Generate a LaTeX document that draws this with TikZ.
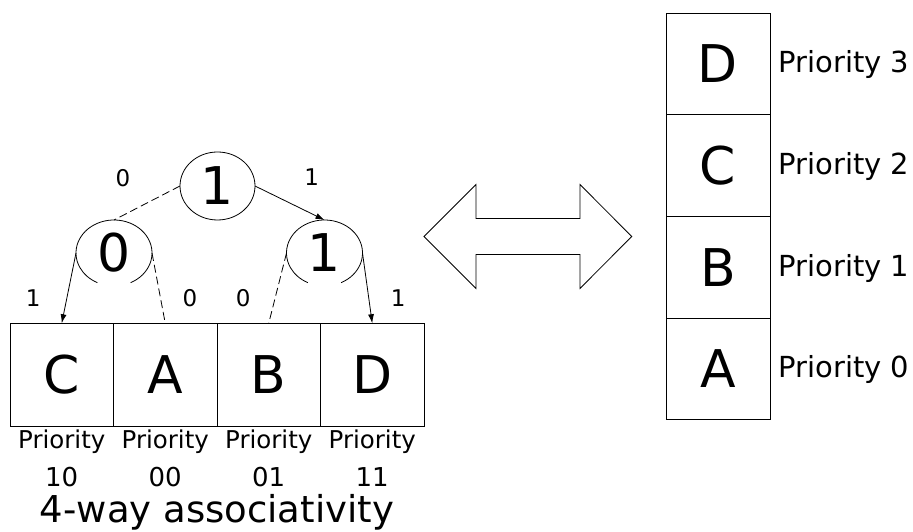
\documentclass[tikz,border=0pt]{standalone}
\usepackage{fontspec}
\setmainfont{DejaVu Sans}
\usetikzlibrary{arrows.meta,shapes.geometric}
\begin{document}
\begin{tikzpicture}[x=1pt,y=1pt,line width=0.8pt,
  cell/.style={draw, minimum width=103.5pt, minimum height=103.5pt, inner sep=0pt, outer sep=0pt, font=\fontsize{52}{60}\selectfont},
  slot/.style={draw, minimum width=104pt, minimum height=101.7pt, inner sep=0pt, outer sep=0pt, font=\fontsize{52}{60}\selectfont},
  bitnode/.style={ellipse, minimum width=76pt, minimum height=66pt, inner sep=0pt, outer sep=0pt, font=\fontsize{52}{60}\selectfont},
  bitlabel/.style={inner sep=0pt, font=\fontsize{23}{26}\selectfont},
  prio/.style={inner sep=0pt, anchor=base, font=\fontsize{24.5}{28}\selectfont},
  prionum/.style={inner sep=0pt, anchor=base, font=\fontsize{26}{30}\selectfont},
  rank/.style={inner sep=0pt, anchor=base west, font=\fontsize{29}{33}\selectfont},
  dashline/.style={dash pattern=on 8pt off 4pt},
  tip/.style={-{Latex[length=9pt,width=6pt]}}
]
\useasboundingbox (0,0) rectangle (913,532);

% set of four ways
\node[cell] (C) at (61.75,157) {C};
\node[cell] (A) at (165.25,157) {A};
\node[cell] (B) at (268.75,157) {B};
\node[cell] (D) at (372.25,157) {D};

\node[prio] (pc) at (61.75,83) {Priority};
\node[prio] (pa) at (165.25,83) {Priority};
\node[prio] (pb) at (268.75,83) {Priority};
\node[prio] (pd) at (372.25,83) {Priority};
\node[prionum] (nc) at (61.75,45.3) {10};
\node[prionum] (na) at (165.25,45.3) {00};
\node[prionum] (nb) at (268.75,45.3) {01};
\node[prionum] (nd) at (372.25,45.3) {11};
\node[inner sep=0pt, anchor=base, font=\fontsize{37}{42}\selectfont] (title) at (217,9) {4-way associativity};

% pseudo-LRU tree bits
\node[bitnode, draw, minimum width=75pt, minimum height=68pt] (root) at (217.5,346) {1};
\node[bitnode] (left) at (114,279) {0};
\node[bitnode] (right) at (324.5,279) {1};
\draw ([shift={(-64:38 and 33)}]left.center) arc[start angle=-64, end angle=244, x radius=38, y radius=33];
\draw ([shift={(-64:38 and 33)}]right.center) arc[start angle=-64, end angle=244, x radius=38, y radius=33];

\draw[dashline] (root.west) -- (left.north);
\draw[tip] (root.east) -- (right.north);
\draw[tip] (left.west) -- (C.north);
\draw[dashline] (left.east) -- (A.north);
\draw[dashline] (right.west) -- (B.north);
\draw[tip] (right.east) -- (D.north);

\node[bitlabel] (l0) at (123,354) {0};
\node[bitlabel] (l1) at (311.7,355.3) {1};
\node[bitlabel] (lc) at (33.3,233.7) {1};
\node[bitlabel] (la) at (190,233.7) {0};
\node[bitlabel] (lb) at (243.3,233.7) {0};
\node[bitlabel] (ld) at (398.3,233.7) {1};

% double-headed arrow
\draw (424,295.5) -- (476,347.5) -- (476,313.5) -- (580,313.5) -- (580,347.5)
  -- (631.7,295.5) -- (580,243.5) -- (580,277.5) -- (476,277.5) -- (476,243.5) -- cycle;

% priority stack
\node[slot] (sD) at (718,468.2) {D};
\node[slot] (sC) at (718,366.5) {C};
\node[slot] (sB) at (718,264.8) {B};
\node[slot] (sA) at (718,163.1) {A};
\node[rank] (r3) at (778,459.3) {Priority 3};
\node[rank] (r2) at (778,357.6) {Priority 2};
\node[rank] (r1) at (778,255.9) {Priority 1};
\node[rank] (r0) at (778,154.2) {Priority 0};
\end{tikzpicture}
\end{document}
